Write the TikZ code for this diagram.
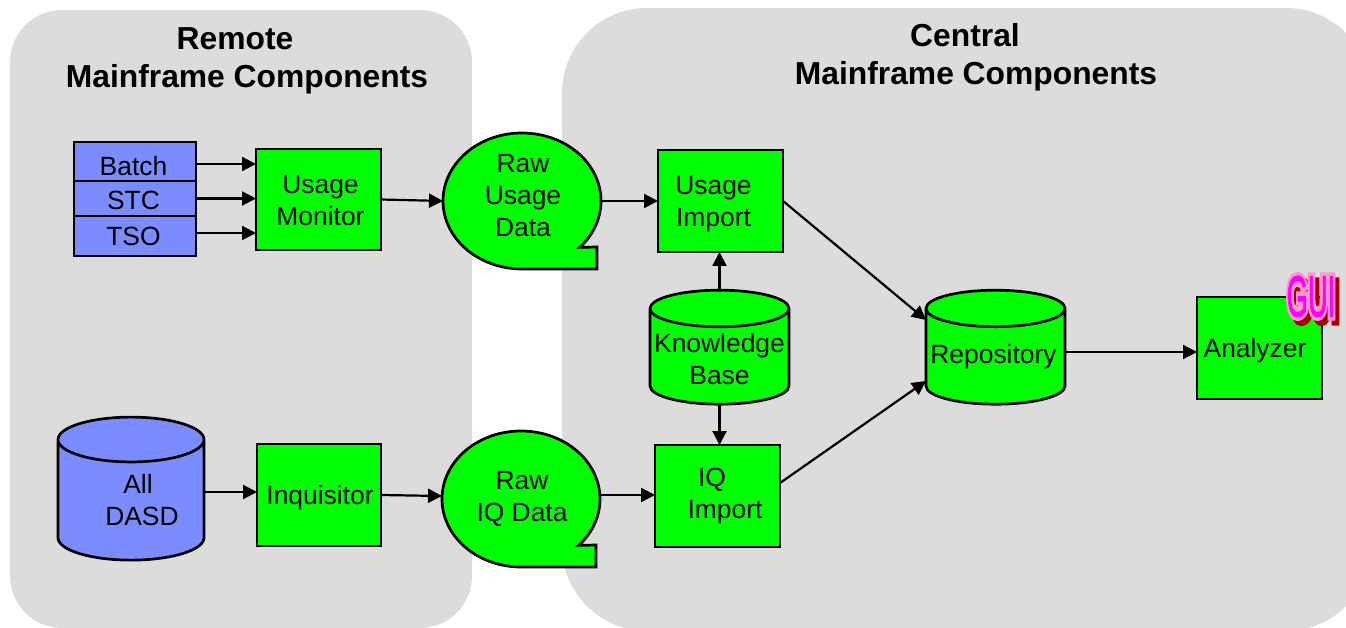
\documentclass[tikz,border=0pt]{standalone}
\usepackage{fontspec}
\setmainfont{Liberation Sans}
\newfontfamily\guifont[RawFeature={embolden=2}]{Liberation Sans}
\newfontfamily\guiglowfont[RawFeature={embolden=14}]{Liberation Sans Bold}
\usetikzlibrary{positioning, arrows.meta}
\usetikzlibrary{shapes.geometric}
\definecolor{panelgrey}{HTML}{DCDCDC}
\definecolor{storeblue}{HTML}{7B8CFF}
\definecolor{boxgreen}{HTML}{00FF00}
\definecolor{guipink}{HTML}{FF99CC}
\definecolor{guimagenta}{HTML}{FF00FF}
\definecolor{guired}{HTML}{A80000}
% one line set higher or lower in its node
\newcommand{\nudged}[2]{\raisebox{#1}[19pt][0pt]{#2}}
% outline with the tail, then the named ellipse that connectors stop at
\newcommand{\rawdata}[4]{
    \draw[rawoutline] (#1) ++(-43:79pt and 68pt) arc[start angle=-43, end angle=270, x radius=79pt, y radius=68pt]
        -- ++(75pt,0pt) -- ++(0pt,22pt) -- cycle;
    \node (#2) [rawbox, label={[rawtext, yshift=#3]center:{#4}}] at (#1) {};
}

\begin{document}
\begin{tikzpicture}[>={Triangle[length=14pt,width=14pt]}, x=1pt, y=1pt, line width=2.2pt]
    \tikzset{panel/.style = {fill=panelgrey, draw=none},
             block/.style = {draw, line width=2.7pt, fill=boxgreen, rectangle, align=center, outer sep=0pt, inner sep=0pt,
                                minimum width = 125pt, minimum height = 102pt},
             job/.style = {draw, line width=2.7pt, fill=storeblue, rectangle, align=center, outer sep=0pt, inner sep=0pt,
                                minimum width = 122pt},
             store/.style = {draw, line width=2.7pt, cylinder, shape border rotate=90, shape aspect=0.28, align=center,
                                outer sep=0pt, inner sep=0pt, cylinder uses custom fill,
                                minimum width = 139pt, minimum height = 114pt},
             rawoutline/.style = {draw, line width=2.7pt, fill=boxgreen},
             rawbox/.style = {ellipse, outer sep=0pt, inner sep=0pt, minimum width = 158pt, minimum height = 136pt},
             rawtext/.style = {align=center, inner sep=0pt, xshift=1pt},
             title/.style = {align=center, inner sep=0pt, font=\fontsize{31.8}{38}\selectfont\bfseries},
             gui/.style = {inner sep=0pt, xscale=0.47, font=\fontsize{58}{58}\selectfont}
            }
    \fontsize{26.4}{32}\selectfont
    \clip (0,0) rectangle (1346,627);

    \fill[panel, rounded corners=52pt] (10,-1) rectangle (472,617);
    \fill[panel, rounded corners=85pt] (562,-4) rectangle (1371,619);

    \node (remote) [title] at (247,566) {Remote\hspace*{24pt}\\Mainframe Components};
    \node (central) [title] at (976,570) {Central\hspace*{22pt}\\Mainframe Components};

    \node (stc) [job, minimum height = 35pt] at (135,428.5) {\nudged{-2pt}{STC\hspace*{3pt}}};
    \node (batch) [job, minimum height = 39pt, above =0pt of stc] {\nudged{-5pt}{Batch\hspace*{3pt}}};
    \node (tso) [job, minimum height = 40pt, below =0pt of stc] {TSO\hspace*{3pt}};
    \node (monitor) [block, minimum height = 101pt] at (318.5,427.5) {\rule{0pt}{21pt}\hspace*{4pt}Usage\\\hspace*{4pt}Monitor};
    \rawdata{522,426}{usageraw}{5pt}{Raw\\Usage\\Data}
    \node (usageimport) [block] at (720.5,426) {\rule{0pt}{25pt}Usage\hspace*{14pt}\\Import\hspace*{14pt}};

    \node (dasd) [store, shape aspect=0.47, cylinder body fill=storeblue, cylinder end fill=storeblue,
                  minimum width = 146pt, minimum height = 143pt] at (131,126.5) {\hspace*{22pt}All\hspace*{8pt}\\\hspace*{22pt}DASD};
    \node (inquisitor) [block, minimum width = 124pt] at (319,132) {\nudged{0pt}{\hspace*{2pt}Inquisitor}};
    \rawdata{521,128}{iqraw}{0pt}{Raw\\IQ Data}
    \node (iqimport) [block] at (717.5,131) {IQ\hspace*{11pt}\\\hspace*{15pt}Import};

    \node (knowledge) [store, cylinder body fill=boxgreen, cylinder end fill=boxgreen] at (719.5,270) {\rule{0pt}{23pt}Knowledge\\Base};
    \node (repository) [store, cylinder body fill=boxgreen, cylinder end fill=boxgreen] at (995.5,270) {\nudged{3pt}{Repository\hspace*{4pt}}};
    \node (analyzer) [block] at (1259.5,279) {\nudged{0pt}{Analyzer\hspace*{9pt}}};

    \node (guishadow) [gui, text=guired] at (1315,325.5) {\guiglowfont GUI};
    \node (guiglow) [gui, text=guipink] at (1311,330.5) {\guiglowfont GUI};
    \node (guitext) [gui, text=guimagenta] at (1311,330.5) {\guifont GUI};

    \draw[->] ([yshift=-2.5pt]batch.east) -- ([yshift=-2.5pt]batch.east -| monitor.west);
    \draw[->] (stc.east) -- (stc.east -| monitor.west);
    \draw[->] ([yshift=3pt]tso.east) -- ([yshift=3pt]tso.east -| monitor.west);
    \draw[->] (monitor.east) -- (usageraw.west);
    \draw[->] (usageraw.east) -- (usageimport.west);
    \draw[->] (knowledge.north) -- (knowledge.north |- usageimport.south);
    \draw[->] (knowledge.south) -- (knowledge.south |- iqimport.north);
    \draw[->] ([yshift=8.5pt]dasd.east) -- ([yshift=8.5pt]dasd.east -| inquisitor.west);
    \draw[->] (inquisitor.east) -- ([yshift=3pt]iqraw.west);
    \draw[->] ([yshift=4pt]iqraw.east) -- ([yshift=4pt]iqraw.east -| iqimport.west);
    \draw[->] (usageimport.east) -- ([yshift=37pt]repository.west);
    \draw[->] ([yshift=13pt]iqimport.east) -- ([yshift=-24pt]repository.west);
    \draw[->] ([yshift=5pt]repository.east) -- ([yshift=5pt]repository.east -| analyzer.west);
\end{tikzpicture}
\end{document}
